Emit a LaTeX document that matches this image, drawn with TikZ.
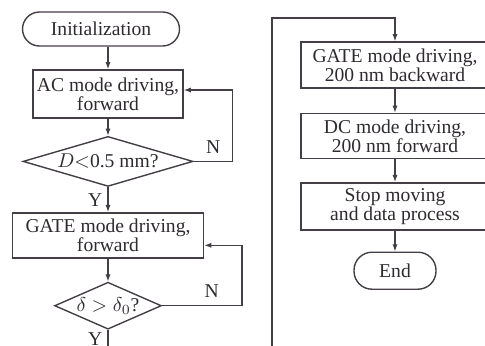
\documentclass[tikz,border=0pt]{standalone}
\usepackage{fontspec}
\setmainfont{Liberation Serif}
\usetikzlibrary{arrows.meta, positioning, shapes.geometric, calc}
\definecolor{chartInk}{RGB}{46,42,48}
\definecolor{chartLine}{RGB}{68,62,70}
\tikzset{
  % plain process box; the terminals and tests build on it
  proc/.style={
    draw=chartLine, line width=0.7pt, align=center, text=chartInk,
    font=\fontsize{9.8}{9.4}\selectfont, inner sep=1pt
  },
  term/.style={proc, rounded corners=8.5pt},
  test/.style={proc, diamond, inner sep=0pt},
  % arrows
  flow/.style={-{Latex[length=3.6pt,width=2.6pt]}, draw=chartLine, line width=0.6pt},
  % Y / N branch labels
  tag/.style={font=\fontsize{9.8}{10}\selectfont, text=chartInk, inner sep=1pt},
}

\begin{document}
\begin{tikzpicture}

\useasboundingbox (0,0) rectangle (242.5pt,-172.5pt);
\clip (0,0) rectangle (242.5pt,-172.5pt);

% ------------------------------- left column -------------------------------
\node[term, minimum width=78.5pt, minimum height=17pt] (init) at (50.5pt,-14.5pt)
      {Initialization};
\node[proc, minimum width=75pt, minimum height=24pt] (ac) at (54pt,-47pt)
      {AC mode driving,\\forward};
\node[test, aspect=3.4, minimum width=85pt, minimum height=25pt, below=8.5pt of ac] (chk1)
      {$D$$<$0.5 mm?};
\node[proc, minimum width=95.5pt, minimum height=22.5pt, below=12.5pt of chk1] (gate)
      {GATE mode driving,\\forward};
\node[test, aspect=2.6, minimum width=51.5pt, minimum height=23.5pt, below=11.5pt of gate] (chk2)
      {$\delta > \delta_0$?};

% ------------------------------- right column ------------------------------
\node[proc, minimum width=94pt, minimum height=23pt] (back) at (197.5pt,-32.5pt)
      {GATE mode driving,\\200 nm backward};
\node[proc, minimum width=94pt, minimum height=22.5pt, below=12pt of back] (dcfw)
      {DC mode driving,\\200 nm forward};
\node[proc, minimum width=94pt, minimum height=23.5pt, below=11.5pt of dcfw] (stop)
      {Stop moving\\and data process};
\node[term, rounded corners=9pt, minimum width=41pt, minimum height=18.5pt,
      below=10.5pt of stop] (fin) {End};

% ------------------------------- the rail between columns ------------------
\coordinate (railbot) at (136pt,-180pt);
\coordinate (railtop) at (136pt,-9pt);

% ------------------------------- connectors --------------------------------
\draw[flow] (init.south -| ac.north) -- (ac.north);
\draw[flow] (ac) -- (chk1);
\draw[flow] (chk1.east) -- ++(19.5pt,0) node[tag, midway, above=2.5pt] {N}
      |- ($(ac.east)+(0,2pt)$);
\draw[flow] (chk1.south) -- node[tag, left=1.5pt] {Y} (gate.north);
\draw[flow] (gate) -- (chk2);
\draw[flow] (chk2.east) -- ++(40pt,0) node[tag, pos=0.62, above=3pt] {N}
      |- ($(gate.east)+(0,-5pt)$);
\draw[flow] (chk2.south) -- node[tag, pos=0.3, left=1.5pt] {Y} (chk2.south |- railbot)
      -- (railbot) -- (railtop) -| (back.north);

\draw[flow] (back) -- (dcfw);
\draw[flow] (dcfw) -- (stop);
\draw[flow] (stop) -- (fin);

\end{tikzpicture}
\end{document}
